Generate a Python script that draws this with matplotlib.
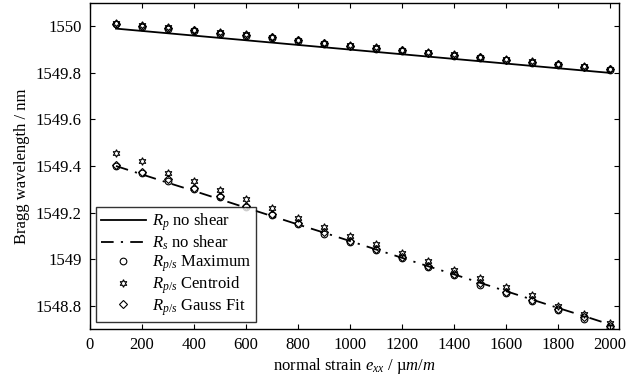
import numpy as np
import matplotlib.pyplot as plt
from matplotlib.ticker import FuncFormatter

plt.rcParams['font.family'] = ['Liberation Serif', 'DejaVu Serif']
plt.rcParams['mathtext.fontset'] = 'custom'
plt.rcParams['mathtext.it'] = 'Liberation Serif:italic'
plt.rcParams['mathtext.rm'] = 'Liberation Serif'

# strain values
strain = [100, 200, 300, 400, 500, 600, 700, 800, 900, 1000,
          1100, 1200, 1300, 1400, 1500, 1600, 1700, 1800, 1900, 2000]

# model lines (no shear)
rp_line = [1549.990, 1549.980, 1549.970, 1549.960, 1549.950, 1549.940, 1549.930,
           1549.920, 1549.910, 1549.900, 1549.890, 1549.880, 1549.870, 1549.860,
           1549.850, 1549.840, 1549.830, 1549.820, 1549.810, 1549.800]
rs_line = [1549.400, 1549.364, 1549.328, 1549.293, 1549.257, 1549.221, 1549.185,
           1549.149, 1549.114, 1549.078, 1549.042, 1549.006, 1548.970, 1548.935,
           1548.899, 1548.863, 1548.827, 1548.791, 1548.756, 1548.720]

# peak detection results, p peak
p_max = [1550.008, 1549.998, 1549.988, 1549.978, 1549.968, 1549.958, 1549.948,
         1549.937, 1549.924, 1549.914, 1549.904, 1549.894, 1549.884, 1549.874,
         1549.864, 1549.854, 1549.844, 1549.834, 1549.824, 1549.812]
p_cen = [1550.015, 1550.005, 1549.995, 1549.985, 1549.975, 1549.965, 1549.955,
         1549.943, 1549.930, 1549.920, 1549.910, 1549.900, 1549.890, 1549.880,
         1549.870, 1549.860, 1549.850, 1549.840, 1549.830, 1549.818]
p_gau = [1550.010, 1550.002, 1549.992, 1549.982, 1549.972, 1549.962, 1549.952,
         1549.941, 1549.927, 1549.917, 1549.907, 1549.897, 1549.887, 1549.877,
         1549.867, 1549.857, 1549.847, 1549.837, 1549.827, 1549.815]

# s peak
s_max = [1549.400, 1549.370, 1549.335, 1549.300, 1549.265, 1549.225, 1549.190,
         1549.150, 1549.110, 1549.075, 1549.040, 1549.005, 1548.965, 1548.930,
         1548.890, 1548.855, 1548.820, 1548.780, 1548.745, 1548.705]
s_cen = [1549.455, 1549.420, 1549.370, 1549.335, 1549.295, 1549.260, 1549.220,
         1549.175, 1549.140, 1549.100, 1549.065, 1549.025, 1548.990, 1548.955,
         1548.920, 1548.880, 1548.845, 1548.800, 1548.765, 1548.725]
s_gau = [1549.405, 1549.375, 1549.345, 1549.305, 1549.270, 1549.230, 1549.195,
         1549.155, 1549.118, 1549.080, 1549.045, 1549.010, 1548.972, 1548.935,
         1548.897, 1548.860, 1548.825, 1548.787, 1548.752, 1548.712]

fig = plt.figure(figsize=(6.32, 3.84), dpi=100)
ax = fig.add_axes([0.1424, 0.1432, 0.8366, 0.849])

ax.plot(strain, rp_line, color='black', lw=1.3, label='$R_p$ no shear')
ax.plot(strain, rs_line, color='black', lw=1.3, ls=(0, (7, 4, 1.2, 4)),
        label='$R_s$ no shear')

mk = dict(ls='none', mfc='none', mec='black', mew=0.8, color='black')
hexagram = (6, 1, 0)
ax.plot(strain, p_max, marker='o', ms=4.8, label='$R_{p/s}$ Maximum', **mk)
ax.plot(strain, p_cen, marker=hexagram, ms=5.5, label='$R_{p/s}$ Centroid', **mk)
ax.plot(strain, p_gau, marker='D', ms=4, label='$R_{p/s}$ Gauss Fit', **mk)
ax.plot(strain, s_max, marker='o', ms=4.8, **mk)
ax.plot(strain, s_cen, marker=hexagram, ms=5.5, **mk)
ax.plot(strain, s_gau, marker='D', ms=4, **mk)

ax.set_xlim(0, 2035)
ax.set_ylim(1548.7, 1550.1)
ax.set_xticks(range(0, 2001, 200))
ax.set_yticks([1548.8, 1549.0, 1549.2, 1549.4, 1549.6, 1549.8, 1550.0])
ax.yaxis.set_major_formatter(FuncFormatter(lambda v, p: '%g' % round(v, 1)))
ax.tick_params(direction='in', top=True, right=True, labelsize=12, length=3.5,
               width=0.8, pad=6)
for s in ax.spines.values():
    s.set_linewidth(1.0)

ax.set_xlabel('normal strain $e_{xx}$ / µ$m/m$', fontsize=12, labelpad=2)
ax.set_ylabel('Bragg wavelength / nm', fontsize=12, labelpad=4)

leg = ax.legend(loc='lower left', bbox_to_anchor=(0.012, 0.022), fontsize=12,
                frameon=True, fancybox=False, edgecolor='black',
                borderpad=0.25, labelspacing=0.05, handlelength=2.7,
                handletextpad=0.4, borderaxespad=0)
leg.get_frame().set_linewidth(1.0)

plt.savefig('out.png', dpi=100)
